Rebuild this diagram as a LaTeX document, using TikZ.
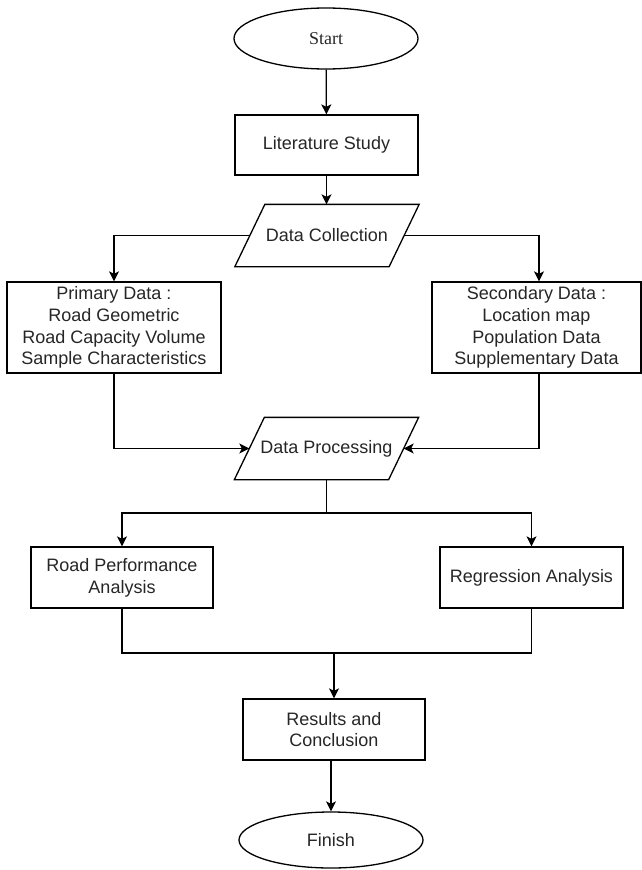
\documentclass[tikz,border=0pt]{standalone}
\usepackage{fontspec}
\setmainfont{Liberation Sans}
\newfontfamily\startfont{Liberation Serif}
\usetikzlibrary{arrows.meta,shapes.geometric}
\begin{document}
\begin{tikzpicture}[x=1pt,y=-1pt,line width=1.3pt,
  every node/.style={font=\fontsize{18}{21.7}\selectfont,text=black!85,inner sep=0pt,align=center},
  box/.style={draw,rectangle,minimum height=61pt},
  term/.style={draw,ellipse,minimum width=184pt},
  para/.style={minimum width=153pt,minimum height=61pt},
  arr/.style={-{Stealth[length=10pt,width=10pt,inset=2.5pt]}}]
\useasboundingbox (0,0) rectangle (642,870);
\node[term,minimum height=61pt] (start) at (326,38.5) {\startfont Start};
\node[box,minimum width=183pt,minimum height=60pt] (lit) at (326.5,145) {Literature Study};
\node[para] (dc) at (327,235.5) {Data Collection};
\node[box,minimum width=214pt,minimum height=91pt] (prim) at (114,327.5) {Primary Data :\\Road Geometric\\Road Capacity Volume\\Sample Characteristics};
\node[box,minimum width=209pt,minimum height=91pt] (sec) at (536.5,327.5) {Secondary Data :\\Location map\\Population Data\\Supplementary Data};
\node[para] (dp) at (326.5,448.5) {Data Processing};
\node[box,minimum width=182pt] (rp) at (122,577.5) {Road Performance\\Analysis};
\node[box,minimum width=183pt] (reg) at (531.5,577.5) {Regression Analysis};
\node[box,minimum width=182pt] (res) at (334,729.5) {Results and\\Conclusion};
\node[term,minimum height=56pt] (fin) at (331,840) {Finish};
\foreach \p in {dc,dp}{
  \draw ([xshift=15pt]\p.north west) -- ([xshift=15pt]\p.north east) -- ([xshift=-15pt]\p.south east) -- ([xshift=-15pt]\p.south west) -- cycle;
}
\coordinate (j1) at (326.5,513);
\coordinate (j2) at (334,653);
\draw[arr] (start) -- (lit);
\draw[arr] (lit) -- (lit.south |- dc.north);
\draw[arr] (dc.west) -| (prim.north);
\draw[arr] (dc.east) -| ([xshift=2.5pt]sec.north);
\draw[arr] (prim.south) |- (dp.west);
\draw[arr] ([xshift=2.5pt]sec.south) |- (dp.east);
\draw (dp.south) -- (j1);
\draw[arr] (j1) -| (rp.north);
\draw[arr] (j1) -| (reg.north);
\draw (rp.south) |- (j2);
\draw (reg.south) |- (j2);
\draw[arr] (j2) -- (res.north);
\draw[arr] ([xshift=-3pt]res.south) -- ([xshift=-3pt]res.south |- fin.north);
\end{tikzpicture}
\end{document}
